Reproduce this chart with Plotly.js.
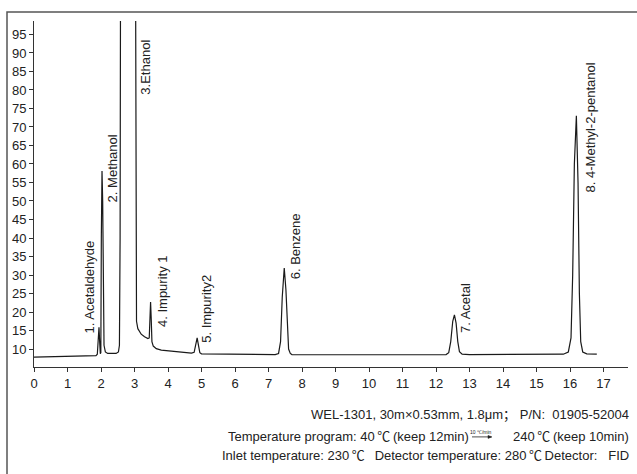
<!DOCTYPE html>
<html>
<head>
<meta charset="utf-8">
<script src="https://cdn.plot.ly/plotly-3.0.1.min.js"></script>
<style>html,body{margin:0;padding:0;background:#fff;}#chart{width:637px;height:474px;}</style>
</head>
<body>
<div id="chart"></div>
<script>
// Retention time (min)
const time = [0, 1.0, 1.85, 1.89, 1.915, 1.94, 1.96, 1.98,
  1.995, 2.01, 2.03, 2.05, 2.07, 2.09, 2.13, 2.2, 2.45, 2.52, 2.55, 2.57, 2.59, 2.8,
  3.02, 3.04, 3.06, 3.1, 3.2, 3.3, 3.4, 3.44, 3.46, 3.48, 3.5, 3.52, 3.56, 3.65, 3.8, 4.2, 4.7,
  4.78, 4.83, 4.87, 4.91, 4.95, 5.0, 6.0, 7.2, 7.3, 7.36, 7.41, 7.47, 7.52, 7.56, 7.6, 7.65, 7.7,
  10.0, 12.3, 12.38, 12.44, 12.5, 12.55, 12.6, 12.65, 12.7, 12.78, 13.0,
  15.8, 15.95, 16.03, 16.08, 16.13, 16.19, 16.24, 16.28, 16.32, 16.38, 16.5, 16.8];
// Detector signal
const signal = [7.8, 8.0, 8.2, 8.6, 13.0, 15.9, 12.0, 8.7,
  9.0, 40.0, 58.1, 50.0, 20.0, 11.0, 9.2, 8.8, 8.8, 9.2, 11.0, 40.0, 150.0, 400.0,
  150.0, 40.0, 17.5, 15.5, 14.0, 13.3, 12.8, 13.0, 18.0, 22.7, 18.0, 12.0, 10.8, 10.1, 9.7, 9.3, 8.9,
  9.1, 11.5, 13.0, 11.0, 9.0, 8.7, 8.6, 8.5, 8.8, 12.0, 24.0, 31.9, 26.0, 16.0, 10.0, 8.8, 8.5,
  8.45, 8.5, 9.0, 12.0, 17.5, 19.2, 17.0, 12.0, 9.3, 8.6, 8.5,
  8.6, 9.2, 13.0, 30.0, 60.0, 73.0, 55.0, 25.0, 12.0, 9.2, 8.7, 8.6];

// Peak labels
const peakNames = ["1. Acetaldehyde", "2. Methanol", "3.Ethanol", "4. Impurity 1",
  "5. Impurity2", "6. Benzene", "7. Acetal", "8. 4-Methyl-2-pentanol"];
const labelTime = [1.67, 2.33, 3.34, 3.82, 5.16, 7.79, 12.90, 16.60];
const labelBase = [13.8, 49.1, 78.3, 15.4, 11.1, 28.3, 13.8, 51.8];

// Condition text
const deg = '\u2009<span style="font-family:\'Noto Sans CJK SC\'">℃</span>\u2009';
const condLine1 = "WEL-1301, 30m×0.53mm, 1.8μm<span style=\"font-family:'Noto Sans CJK SC'\">；</span> P/N:  01905-52004";
const condLine2a = "Temperature program: 40" + deg + "(keep 12min)";
const condRate = "10 ℃/min";
const condLine2b = "240" + deg + "(keep 10min)";
const condLine3 = "Inlet temperature: 230" + deg + "  Detector temperature: 280" + deg + "Detector:   FID";

const L = 34, R = 9, T = 20.5, B = 107, W = 637, H = 474;
const pw = W - L - R, ph = H - T - B;
const px = v => (v - L) / pw;
const py = v => (H - B - v) / ph;

const font = "Liberation Sans, Arial, sans-serif";
const txt = "#222";

const annotations = peakNames.map((n, i) => ({
  x: labelTime[i], y: labelBase[i], xref: 'x', yref: 'y', text: n,
  textangle: -90, xanchor: 'center', yanchor: 'bottom', showarrow: false,
  font: {family: font, size: 13, color: txt}
}));
annotations.push(
  {xref:'paper', yref:'paper', x: px(631), y: py(414), text: condLine1, xanchor:'right', yanchor:'middle', showarrow:false, font:{family:font,size:13,color:txt}},
  {xref:'paper', yref:'paper', x: px(471), y: py(436), text: condLine2a, xanchor:'right', yanchor:'middle', showarrow:false, font:{family:font,size:13,color:txt}},
  {xref:'paper', yref:'paper', x: px(481), y: py(432), text: condRate, xanchor:'center', yanchor:'middle', showarrow:false, font:{family:font,size:5,color:txt}},
  {xref:'paper', yref:'paper', x: px(631), y: py(436), text: condLine2b, xanchor:'right', yanchor:'middle', showarrow:false, font:{family:font,size:13,color:txt}},
  {xref:'paper', yref:'paper', x: px(631), y: py(455), text: condLine3, xanchor:'right', yanchor:'middle', showarrow:false, font:{family:font,size:13,color:txt}}
);

const shapes = [
  {type:'rect', xref:'paper', yref:'paper', x0: px(7), x1: px(700), y0: py(11.5), y1: py(520), line:{color:'#555', width:1.5}, fillcolor:'rgba(0,0,0,0)'},
  {type:'line', xref:'paper', yref:'paper', x0: px(472), x1: px(491), y0: py(437), y1: py(437), line:{color:'#222', width:0.8}},
  {type:'path', xref:'paper', yref:'paper', path: `M ${px(488)} ${py(435.5)} L ${px(492)} ${py(437)} L ${px(488)} ${py(438.5)} Z`, fillcolor:'#222', line:{color:'#222', width:0.5}}
];

const trace = {x: time, y: signal, type:'scatter', mode:'lines', line:{color:'#1a1a1a', width:1.2}, hoverinfo:'skip'};

const layout = {
  width: W, height: H,
  margin: {l: L, r: R, t: T, b: B, pad: 0},
  paper_bgcolor: '#fff', plot_bgcolor: '#fff',
  showlegend: false,
  font: {family: font, size: 13, color: txt},
  xaxis: {range: [0, pw / 33.5], tick0: 0, dtick: 1, ticks: 'outside', ticklen: 4, tickwidth: 1, tickcolor: '#333',
    showline: true, linecolor: '#333', linewidth: 1, showgrid: false, zeroline: false,
    tickfont: {family: font, size: 13, color: txt}},
  yaxis: {range: [5.14, 98.64], tick0: 0, dtick: 5, ticks: 'outside', ticklen: 4, tickwidth: 1, tickcolor: '#333',
    showline: true, linecolor: '#333', linewidth: 1, showgrid: false, zeroline: false,
    tickfont: {family: font, size: 13, color: txt}},
  annotations: annotations,
  shapes: shapes
};
Plotly.newPlot('chart', [trace], layout, {displayModeBar: false, staticPlot: true});
</script>
</body>
</html>
